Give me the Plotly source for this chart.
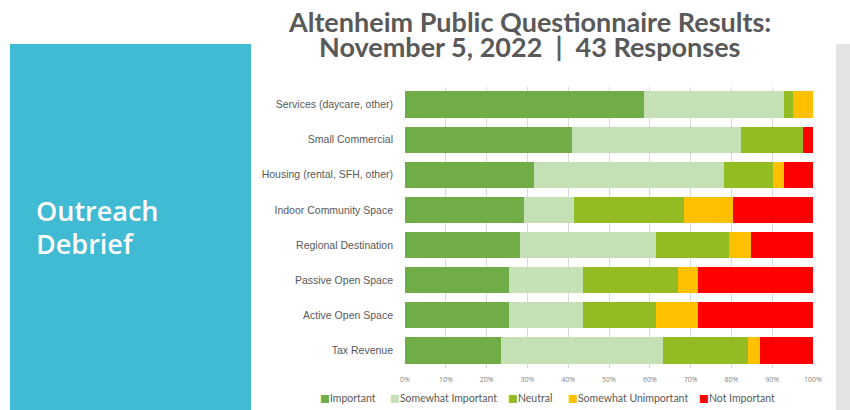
import plotly.graph_objects as go

categories = [
    "Services (daycare, other)",
    "Small Commercial",
    "Housing (rental, SFH, other)",
    "Indoor Community Space",
    "Regional Destination",
    "Passive Open Space",
    "Active Open Space",
    "Tax Revenue",
]

important = [58.5, 40.9, 31.6, 29.2, 28.3, 25.5, 25.5, 23.6]
somewhat_important = [34.3, 41.4, 46.6, 12.3, 33.3, 18.1, 18.1, 39.7]
neutral = [2.4, 15.3, 12.1, 26.8, 17.9, 23.2, 18.0, 20.8]
somewhat_unimportant = [4.8, 0.0, 2.5, 12.2, 5.3, 5.0, 10.2, 2.8]
not_important = [0.0, 2.4, 7.2, 19.5, 15.2, 28.2, 28.2, 13.1]

series_names = ["Important", "Somewhat Important", "Neutral",
                "Somewhat Unimportant", "Not Important"]
series_values = [important, somewhat_important, neutral,
                 somewhat_unimportant, not_important]
series_colors = ["#70AD47", "#C5E0B4", "#92BC22", "#FFC000", "#FF0000"]

tick_vals = [0, 10, 20, 30, 40, 50, 60, 70, 80, 90, 100]
tick_text = [f"{v}%" for v in tick_vals]

title_line1 = "Altenheim Public Questionnaire Results:"
title_line2 = "November 5, 2022  |  43 Responses"
side_line1 = "Outreach"
side_line2 = "Debrief"

W, H = 850, 410
L, R, T, B = 405, 37, 87, 42
PW, PH = W - L - R, H - T - B


def px(x):
    return (x - L) / PW


def py(y):
    return 1 - (y - T) / PH


fig = go.Figure()
for name, vals, col in zip(series_names, series_values, series_colors):
    fig.add_trace(go.Bar(
        y=categories, x=vals, name=name, orientation="h",
        marker=dict(color=col, line=dict(width=0)),
        hoverinfo="x+y+name", showlegend=False,
    ))

title_font = dict(family="Lato", size=27, color="#595959", weight=700)
side_font = dict(family="Open Sans", size=27, color="white", weight=600)
legend_font = dict(family="Lato", size=10.5, color="#595959")

annotations = [
    dict(text=title_line1, xref="paper", yref="paper",
         x=px(529), y=py(22), xanchor="center", yanchor="middle",
         showarrow=False, font=title_font),
    dict(text=title_line2, xref="paper", yref="paper",
         x=px(529), y=py(46.5), xanchor="center", yanchor="middle",
         showarrow=False, font=title_font),
    dict(text=side_line1, xref="paper", yref="paper",
         x=px(34), y=py(210), xanchor="left", yanchor="middle",
         showarrow=False, font=side_font),
    dict(text=side_line2, xref="paper", yref="paper",
         x=px(34), y=py(243.5), xanchor="left", yanchor="middle",
         showarrow=False, font=side_font),
]

# legend row (compact, like the original)
legend_x = [318, 387.5, 506, 565.5, 697]
for name, col, lx in zip(series_names, series_colors, legend_x):
    annotations.append(dict(
        text=f"<span style='color:{col};font-family:DejaVu Sans'>■</span>{name}",
        xref="paper", yref="paper", x=px(lx), y=py(397.5),
        xanchor="left", yanchor="middle", showarrow=False, font=legend_font,
    ))

fig.update_layout(
    width=W, height=H,
    margin=dict(l=L, r=R, t=T, b=B, pad=0, autoexpand=False),
    barmode="stack",
    bargap=0.25,
    plot_bgcolor="white",
    paper_bgcolor="white",
    showlegend=False,
    xaxis=dict(
        range=[0, 100], tickvals=tick_vals, ticktext=tick_text,
        showgrid=True, gridcolor="#D9D9D9", gridwidth=1,
        zeroline=False, showline=False,
        ticks="", ticklabelstandoff=6,
        tickfont=dict(family="Open Sans", size=7, color="#7F7F7F"),
        fixedrange=True,
    ),
    yaxis=dict(
        categoryorder="array", categoryarray=categories, autorange="reversed",
        ticks="", ticklabelstandoff=11,
        tickfont=dict(family="Liberation Sans", size=10.5, color="#595959"),
        showgrid=False, zeroline=False, showline=False, fixedrange=True,
    ),
    shapes=[
        dict(type="rect", xref="paper", yref="paper",
             x0=px(10), x1=px(251), y0=py(44), y1=py(412),
             fillcolor="#41BAD3", line=dict(width=0), layer="below"),
        dict(type="rect", xref="paper", yref="paper",
             x0=px(836), x1=px(852), y0=py(44), y1=py(412),
             fillcolor="#E3E3E3", line=dict(width=0), layer="below"),
    ],
    annotations=annotations,
)

fig.write_html("out.html", config={"displayModeBar": False},
               post_script="document.body.style.margin='0';")
